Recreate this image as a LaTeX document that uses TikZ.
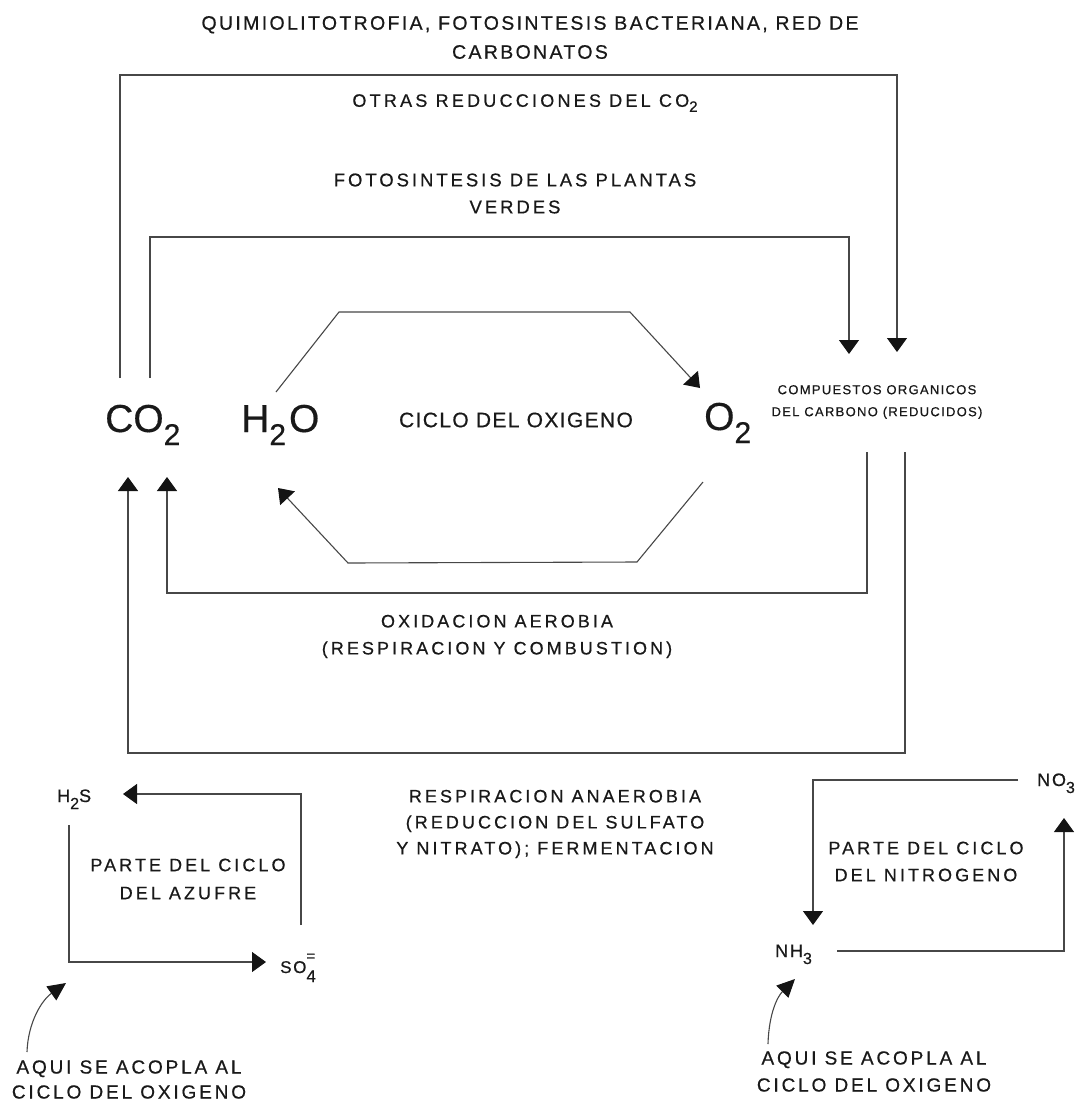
\documentclass[tikz,border=0pt]{standalone}
\usepackage{fontspec}
\setmainfont{Liberation Sans}[FakeBold=0.4]
\newfontfamily\fTitle[LetterSpace=12,FakeBold=0.6]{Liberation Sans}
\newfontfamily\fWide[LetterSpace=17,FakeBold=0.6]{Liberation Sans}
\newfontfamily\fOtras[LetterSpace=18,FakeBold=0.6]{Liberation Sans}
\newfontfamily\fFoto[LetterSpace=16,FakeBold=0.6]{Liberation Sans}
\newfontfamily\fCiclo[LetterSpace=6.5,FakeBold=0.6]{Liberation Sans}
\newfontfamily\fSmall[LetterSpace=10,FakeBold=0.6]{Liberation Sans}
\newfontfamily\fAqui[LetterSpace=15,FakeBold=0.6]{Liberation Sans}
\usetikzlibrary{arrows.meta,calc}
% lowered index for the large formulas
\newcommand\bigsub[1]{\raisebox{-13pt}{\fontsize{30}{30}\selectfont #1}}
% lowered index for the small formulas
\newcommand\smallsub[1]{\raisebox{-7pt}{\fontsize{16}{16}\selectfont #1}}
\begin{document}
\begin{tikzpicture}[x=1pt,y=-1pt,
  line/.style={draw=black!72,line width=1.1pt},
  tip/.style={-{Triangle[width=20pt,length=14pt,color=black!92]}},
  ptip/.style={-{Triangle[width=17pt,length=18pt,color=black!92]}},
  lbl/.style={inner sep=0pt,align=center,text=black!90},
  chem/.style={inner sep=0pt,text=black!90,anchor=base west,font=\fontsize{39}{39}\selectfont},
  schem/.style={inner sep=0pt,text=black!90,anchor=base west,font=\fSmall\fontsize{18}{18}\selectfont}]
\useasboundingbox (0,0) rectangle (1092,1104);

% ---- labels ----
\node[lbl,font=\fTitle\fontsize{19.5}{29}\selectfont] (title) at (530,37.5)
  {QUIMIOLITOTROFIA, FOTOSINTESIS BACTERIANA, RED DE\\CARBONATOS};
\node[lbl,font=\fOtras\fontsize{18}{27}\selectfont] (otras) at (525,103)
  {OTRAS REDUCCIONES DEL CO\raisebox{-5pt}{\fontsize{15}{15}\selectfont 2}};
\node[lbl,font=\fFoto\fontsize{18.5}{27}\selectfont] (foto) at (515,193.5)
  {FOTOSINTESIS DE LAS PLANTAS\\VERDES};
\node[lbl,font=\fCiclo\fontsize{21}{21}\selectfont] (ciclo) at (516,420) {CICLO DEL OXIGENO};
\node[lbl,font=\fSmall\fontsize{13}{22}\selectfont] (org) at (877,402)
  {COMPUESTOS ORGANICOS\\DEL CARBONO (REDUCIDOS)};
\node[lbl,font=\fWide\fontsize{18}{27}\selectfont] (oxid) at (497,636.5)
  {OXIDACION AEROBIA\\(RESPIRACION Y COMBUSTION)};
\node[lbl,font=\fWide\fontsize{18}{26}\selectfont] (anaer) at (555,824)
  {RESPIRACION ANAEROBIA\\(REDUCCION DEL SULFATO\\Y NITRATO); FERMENTACION};
\node[lbl,font=\fWide\fontsize{18}{28}\selectfont] (azufre) at (188,879)
  {PARTE DEL CICLO\\DEL AZUFRE};
\node[lbl,font=\fWide\fontsize{18}{27}\selectfont] (nitro) at (926,861.5)
  {PARTE DEL CICLO\\DEL NITROGENO};
\node[lbl,font=\fAqui\fontsize{19}{25}\selectfont] (aquiS) at (129,1079.5)
  {AQUI SE ACOPLA AL\\CICLO DEL OXIGENO};
\node[lbl,font=\fAqui\fontsize{19}{27}\selectfont] (aquiN) at (874,1071.5)
  {AQUI SE ACOPLA AL\\CICLO DEL OXIGENO};

% ---- compounds ----
\node[chem] (co2) at (105,432) {CO\bigsub{2}};
\node[chem] (h2o) at (241,432) {H\bigsub{2}\kern3pt O};
\node[chem] (o2)  at (704,430) {O\bigsub{2}};
\node[schem] (h2s) at (57,802) {H\smallsub{2}S};
\node[schem,font=\fSmall\fontsize{17}{17}\selectfont] (so4) at (280,973)
  {SO\rlap{\raisebox{12pt}{\fontsize{15}{15}\selectfont =}}\raisebox{-9pt}{\fontsize{17}{17}\selectfont 4}};
\node[schem] (nh3) at (775,957) {NH\smallsub{3}};
\node[schem] (no3) at (1037,786) {NO\smallsub{3}};

% ---- connector end points ----
\coordinate (topO) at (0,75);
\coordinate (topI) at (0,237);
\coordinate (co2o) at (120,378);
\coordinate (co2i) at (150,378);
\coordinate (orgO) at (897,352);
\coordinate (orgI) at (849,354);
\coordinate (h2oT) at (276,392);
\coordinate (hexTL) at (339,312);
\coordinate (hexTR) at (630,312);
\coordinate (o2T) at (700,388);
\coordinate (o2B) at (703,482);
\coordinate (hexBR) at (637,562);
\coordinate (hexBL) at (348,563);
\coordinate (h2oB) at (278,488);
\coordinate (orgA) at (867,452);
\coordinate (botA) at (0,593);
\coordinate (co2A) at (167,477);
\coordinate (orgN) at (905,452);
\coordinate (botN) at (0,753);
\coordinate (co2N) at (128,477);
\coordinate (so4T) at (301,925);
\coordinate (h2sR) at (123,794);
\coordinate (h2sB) at (69,825);
\coordinate (so4L) at (266,962);
\coordinate (no3L) at (1018,780);
\coordinate (nh3T) at (813,925);
\coordinate (nh3R) at (837,951);
\coordinate (no3B) at (1064,818);
\coordinate (ptS) at (27,1052);
\coordinate (ptN) at (768,1044);
\coordinate (h2sP) at (66,983);
\coordinate (nh3P) at (795,979);

% ---- carbon loops ----
\draw[line,tip] (co2o) -- (co2o |- topO) -| (orgO);
\draw[line,tip] (co2i) -- (co2i |- topI) -| (orgI);
\draw[line,tip] (orgA) -- (orgA |- botA) -| (co2A);
\draw[line,tip] (orgN) -- (orgN |- botN) -| (co2N);

% ---- oxygen cycle ----
\draw[line,tip] (h2oT) -- (hexTL) -- (hexTR) -- (o2T);
\draw[line,tip] (o2B) -- (hexBR) -- (hexBL) -- (h2oB);

% ---- sulfur and nitrogen ----
\draw[line,tip] (so4T) |- (h2sR);
\draw[line,tip] (h2sB) |- (so4L);
\draw[line,tip] (no3L) -| (nh3T);
\draw[line,tip] (nh3R) -| (no3B);

% ---- coupling pointers ----
\draw[line,ptip] (ptS) .. controls (28,1022) and (42,1000) .. (h2sP);
\draw[line,ptip] (ptN) .. controls (769,1012) and (778,996) .. (nh3P);
\end{tikzpicture}
\end{document}
